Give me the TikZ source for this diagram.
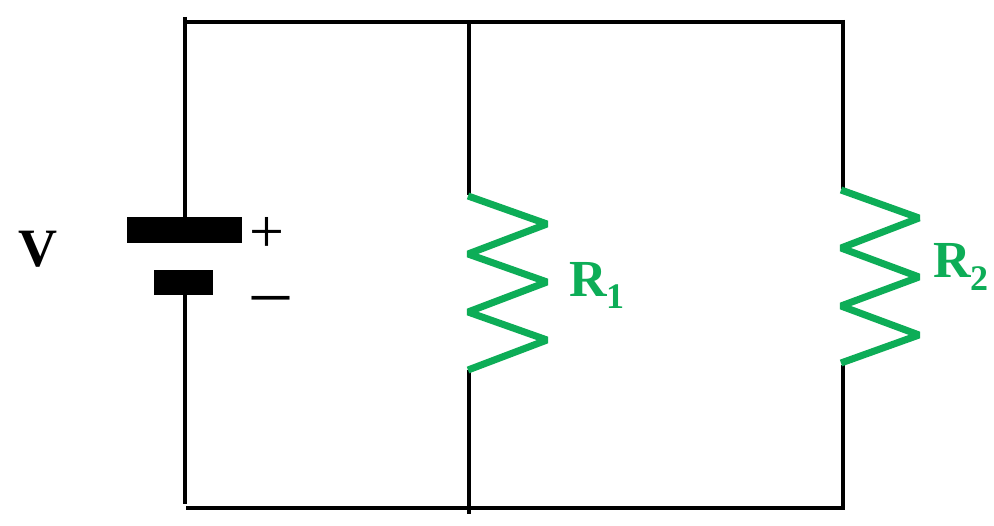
\documentclass[tikz,border=0pt]{standalone}
\usepackage{fontspec}
\setmainfont{Liberation Serif}
\definecolor{resgreen}{HTML}{0DAD57}
\tikzset{
  wire/.style={draw=black,line width=4pt,line cap=butt},
  zig/.style={draw=resgreen,line width=7pt,line join=bevel,line cap=butt},
  plate/.style={fill=black,draw=none,inner sep=0pt,outer sep=0pt,rectangle},
  lab/.style={inner sep=0pt,outer sep=0pt,anchor=base west},
  sign/.style={inner sep=0pt,outer sep=0pt,anchor=base,text height=4pt,text depth=0pt},
  reslab/.style={lab,text=resgreen,font=\bfseries\fontsize{52}{52}\selectfont},
  ressub/.style={lab,text=resgreen,font=\bfseries\fontsize{36}{36}\selectfont},
}
\begin{document}
\begin{tikzpicture}[x=1pt,y=-1pt]
\useasboundingbox (0,0) rectangle (994,526);
\fill[white] (0,0) rectangle (994,526);
% corners and junctions
\coordinate (tl) at (185,17);
\coordinate (tlw) at (185,22);
\coordinate (tm) at (469,22);
\coordinate (tr) at (843,20);
\coordinate (trw) at (845,22);
\coordinate (bl) at (185,504);
\coordinate (blw) at (186,508);
\coordinate (bm) at (469,514);
\coordinate (br) at (843,507);
\coordinate (brw) at (845,508);
% battery
\node[plate,minimum width=115pt,minimum height=26pt] (bigplate) at (184.5,230) {};
\node[plate,minimum width=59pt,minimum height=25pt] (smallplate) at (183.5,282.5) {};
\coordinate (batT) at (185,218);
\coordinate (batB) at (185,294);
% resistor 1
\coordinate (a0) at (468,196);
\coordinate (a1) at (547,224);
\coordinate (a2) at (468,254);
\coordinate (a3) at (547,282);
\coordinate (a4) at (468,312);
\coordinate (a5) at (547,340);
\coordinate (a6) at (468,370);
\coordinate (atop) at (469,195);
\coordinate (abot) at (469,370);
% resistor 2
\coordinate (b0) at (841,190);
\coordinate (b1) at (919,218);
\coordinate (b2) at (841,248);
\coordinate (b3) at (919,277);
\coordinate (b4) at (841,306);
\coordinate (b5) at (919,335);
\coordinate (b6) at (841,363);
\coordinate (btop) at (843,189);
\coordinate (bbot) at (843,365);
% wires
\draw[wire] (tl) -- (batT);
\draw[wire] (batB) -- (bl);
\draw[wire] (tlw) -- (trw);
\draw[wire] (blw) -- (brw);
\draw[wire] (tm) -- (atop);
\draw[wire] (abot) -- (bm);
\draw[wire] (tr) -- (btop);
\draw[wire] (bbot) -- (br);
% zigzags
\draw[zig] (a0) -- (a1) -- (a2) -- (a3) -- (a4) -- (a5) -- (a6);
\draw[zig] (b0) -- (b1) -- (b2) -- (b3) -- (b4) -- (b5) -- (b6);
% labels
\node[lab,font=\bfseries\fontsize{54}{54}\selectfont] (vlab) at (18,267) {V};
\node[sign,font=\fontsize{62}{62}\selectfont] (plus) at (267,253) {+};
\node[sign,font=\fontsize{74}{74}\selectfont] (minus) at (270.5,316) {–};
\node[reslab] (r1) at (569,297) {R};
\node[ressub] (r1s) at (606,309) {1};
\node[reslab] (r2) at (933,278) {R};
\node[ressub] (r2s) at (970,291) {2};
\end{tikzpicture}
\end{document}
